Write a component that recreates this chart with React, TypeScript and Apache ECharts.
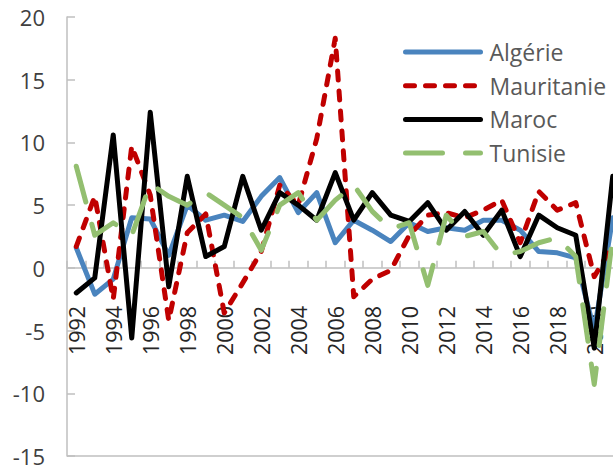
import React, { useEffect, useRef } from "react";
import * as echarts from "echarts";

const years = [
  "1992", "1993", "1994", "1995", "1996", "1997", "1998", "1999", "2000", "2001",
  "2002", "2003", "2004", "2005", "2006", "2007", "2008", "2009", "2010", "2011",
  "2012", "2013", "2014", "2015", "2016", "2017", "2018", "2019", "2020", "2021",
];

const algerie = [1.6, -2.1, -0.9, 4.0, 3.9, 1.0, 5.0, 3.8, 4.2, 3.7, 5.7, 7.2, 4.4, 6.0, 2.0, 3.8, 3.0, 2.1, 3.6, 2.9, 3.2, 3.0, 3.8, 3.8, 3.0, 1.3, 1.2, 0.8, -5.0, 4.0];
const mauritanie = [1.7, 5.7, -2.5, 9.7, 5.8, -4.2, 2.8, 4.3, -3.6, -1.2, 1.3, 6.6, 5.0, 10.3, 18.3, -2.3, -0.9, -0.2, 2.6, 4.2, 4.4, 4.0, 4.6, 5.4, 2.0, 6.1, 4.6, 5.2, -0.7, 1.8];
const maroc = [-2.0, -0.8, 10.6, -5.6, 12.4, -1.5, 7.3, 0.9, 1.7, 7.3, 3.0, 6.0, 5.0, 3.8, 7.6, 3.8, 6.0, 4.2, 3.7, 5.2, 3.0, 4.5, 2.6, 4.6, 0.9, 4.2, 3.2, 2.6, -6.4, 7.3];
const tunisie = [8.1, 2.6, 3.6, 2.6, 6.7, 5.7, 5.0, 6.0, 5.0, 4.0, 1.4, 5.0, 6.0, 3.8, 5.4, 6.6, 4.5, 3.1, 3.6, -1.4, 4.2, 2.5, 2.9, 1.0, 1.3, 2.0, 2.4, 0.9, -9.3, 2.5];

const seriesNames = ["Algérie", "Mauritanie", "Maroc", "Tunisie"];
const yMin = -15;
const yMax = 20;
const yStep = 5;

const FONT = "'Open Sans', 'Noto Sans', sans-serif";
const AXIS_GREY = "#bfbfbf";
const GRID_TOP = 17;
const GRID_H = 439;
// distance from plot bottom to the value 0 line
const ZERO_OFFSET = -GRID_H * (0 - yMin) / (yMax - yMin);

export default function App() {
  const ref = useRef<HTMLDivElement>(null);

  useEffect(() => {
    if (!ref.current) return;
    const chart = echarts.init(ref.current, undefined, { renderer: "svg" });
    const mk = (name: string, data: number[], color: string, type: any) => ({
      name,
      type: "line",
      data,
      symbol: "none",
      showSymbol: false,
      lineStyle: { color, width: 5, type, cap: "round", join: "round" },
      itemStyle: { color },
      z: 2,
    });
    chart.setOption({
      animation: false,
      grid: {
        left: 67,
        top: GRID_TOP,
        width: 555,
        height: GRID_H,
        containLabel: false,
        outerBoundsMode: "none",
      },
      graphic: [
        {
          type: "line",
          shape: { x1: 67, y1: GRID_TOP + GRID_H, x2: 613, y2: GRID_TOP + GRID_H },
          style: { stroke: AXIS_GREY, lineWidth: 1.5 },
          silent: true,
        },
      ],
      legend: {
        show: true,
        orient: "vertical",
        left: 403,
        top: 39,
        padding: 0,
        itemWidth: 75,
        itemHeight: 10,
        itemGap: 7.7,
        selectedMode: false,
        data: seriesNames,
        itemStyle: { opacity: 0 },
        lineStyle: { width: 5, cap: "round" },
        textStyle: {
          fontFamily: FONT,
          fontSize: 23,
          color: "#595959",
          lineHeight: 26,
          padding: [0, 0, 0, 4],
        },
      },
      xAxis: {
        type: "category",
        data: years,
        boundaryGap: true,
        position: "bottom",
        offset: ZERO_OFFSET,
        z: 1,
        axisLine: { show: true, onZero: false, lineStyle: { color: AXIS_GREY, width: 1.5 } },
        axisTick: { show: true, inside: true, length: 7, interval: 0, lineStyle: { color: AXIS_GREY, width: 1.5 } },
        axisLabel: {
          interval: 1,
          rotate: 90,
          margin: 38,
          fontFamily: FONT,
          fontSize: 21.5,
          color: "#262626",
        },
        splitLine: { show: false },
      },
      yAxis: {
        type: "value",
        min: yMin,
        max: yMax,
        interval: yStep,
        axisLine: { show: true, onZero: false, lineStyle: { color: AXIS_GREY, width: 1.5 } },
        axisTick: { show: true, inside: true, length: 8, lineStyle: { color: AXIS_GREY, width: 1.5 } },
        axisLabel: {
          margin: 22,
          fontFamily: FONT,
          fontSize: 22,
          color: "#404040",
        },
        splitLine: { show: false },
      },
      series: [
        mk(seriesNames[0], algerie, "#4a84be", "solid"),
        mk(seriesNames[1], mauritanie, "#c00000", [9, 11]),
        mk(seriesNames[2], maroc, "#000000", "solid"),
        mk(seriesNames[3], tunisie, "#93bf70", [37, 23]),
      ],
    });
    return () => chart.dispose();
  }, []);

  return (
    <div
      ref={ref}
      style={{ position: "fixed", left: 0, top: 0, width: 613, height: 466, background: "#fff" }}
    />
  );
}
